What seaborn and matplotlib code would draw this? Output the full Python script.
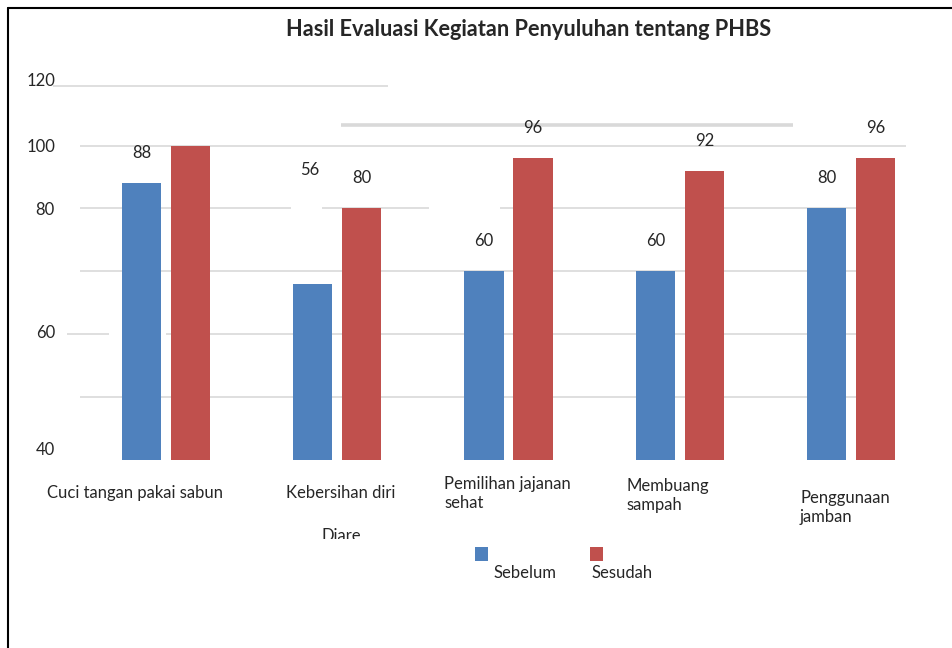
import numpy as np
import pandas as pd
import matplotlib.pyplot as plt
import seaborn as sns
from matplotlib.patches import Rectangle
from matplotlib.lines import Line2D
from matplotlib.transforms import Bbox

# data
categories = ["Cuci tangan pakai sabun", "Kebersihan diri", "Pemilihan jajanan\nsehat",
              "Membuang\nsampah", "Penggunaan\njamban"]
sebelum = [88, 56, 60, 60, 80]
sesudah = [100, 80, 96, 92, 96]
series = ["Sebelum", "Sesudah"]
# the original only prints some of the values
label_sebelum = ["88", "", "60", "60", "80"]
label_sesudah = ["", "80", "96", "92", "96"]
# tick labels sit at odd heights in the original
ytick_pos = [121, 100, 80, 41, 3.5]
ytick_labels = ["120", "100", "80", "60", "40"]
title = "Hasil Evaluasi Kegiatan Penyuluhan tentang PHBS"
stray_text = "Diare"

BLUE = "#4F81BD"
RED = "#C0504D"
GRID = "#D9D9D9"
W, H = 952, 648

# broken gridlines: (y, x_start, x_end, linewidth)
grid_segments = [
    (119, -0.660, 1.296, 1.2),
    (106.6, 1.022, 3.661, 2.6),
    (100, -0.502, 4.321, 1.2),
    (80, -0.502, 0.730, 1.2),
    (80, 0.911, 1.536, 1.2),
    (80, 1.950, 4.029, 1.2),
    (60, -0.502, 4.029, 1.2),
    (40, -0.578, -0.333, 1.2),
    (40, 0.0, 4.029, 1.2),
    (20, -0.502, 4.029, 1.2),
]
# (left px, top px) of each category label
cat_label_xy = [(47, 485), (286, 485), (444, 476), (626, 478), (800, 490)]

sns.set_style("white")
plt.rcParams["font.family"] = ["Lato", "DejaVu Sans"]

df = pd.DataFrame({
    "kategori": categories * 2,
    "nilai": sebelum + sesudah,
    "waktu": [series[0]] * len(categories) + [series[1]] * len(categories),
})

fig = plt.figure(figsize=(W / 100, H / 100), dpi=100)
ax = fig.add_axes([80 / W, 1 - 460 / H, 826 / W, (460 - 79.6) / H])

sns.barplot(data=df, x="kategori", y="nilai", hue="waktu",
            palette={series[0]: BLUE, series[1]: RED},
            width=0.572, gap=0.2, saturation=1, errorbar=None,
            linewidth=0, edgecolor="none",
            legend=False, ax=ax, zorder=3)

ax.set_xlim(-0.502, 4.321)
ax.set_ylim(0, 120)

for y, x0, x1, lw in grid_segments:
    ax.hlines(y, x0, x1, color=GRID, lw=lw, zorder=1, clip_on=False)

ax.set_yticks(ytick_pos, ytick_labels)
ax.tick_params(axis="y", length=0, pad=18, labelsize=12)
ax.tick_params(axis="x", length=0, labelbottom=False)
ax.set_xlabel("")
ax.set_ylabel("")
sns.despine(ax=ax, left=True, bottom=True)

# value labels
for cont, labs in zip(ax.containers, [label_sebelum, label_sesudah]):
    ax.bar_label(cont, labels=labs, padding=16, fontsize=12)
bar = ax.containers[0][1]
ax.annotate(str(sebelum[1]), xy=(bar.get_x() + bar.get_width() / 2, bar.get_height()),
            xytext=(-2, 82), textcoords="offset points",
            ha="center", va="center", fontsize=12)

# category labels
for name, (px, py) in zip(categories, cat_label_xy):
    fig.text(px / W, 1 - py / H, name, ha="left", va="top", fontsize=12)

fig.text(529 / W, 1 - 30 / H, title, ha="center", va="center",
         fontsize=15.7, fontweight="bold")

t = fig.text(341 / W, 1 - 541 / H, stray_text, ha="center", va="baseline", fontsize=12)
t.set_clip_box(Bbox.from_extents(0, H - 539, W, H))
t.set_clip_on(True)

# legend drawn by hand, like the original
for color, name, (sx, tx) in zip([BLUE, RED], series, [(475, 493), (590, 591)]):
    fig.add_artist(Rectangle((sx / W, 1 - 561 / H), 13 / W, 14 / H,
                             color=color, lw=0, transform=fig.transFigure))
    fig.text(tx / W, 1 - 578 / H, name, ha="left", va="baseline", fontsize=12)

# frame
fig.add_artist(Line2D([8 / W, 1], [1 - 7.5 / H] * 2, color="black", lw=1.5,
                      transform=fig.transFigure))
fig.add_artist(Line2D([8 / W] * 2, [1 - 7.5 / H, 0], color="black", lw=1.5,
                      transform=fig.transFigure))

fig.savefig("out.png", dpi=100)
